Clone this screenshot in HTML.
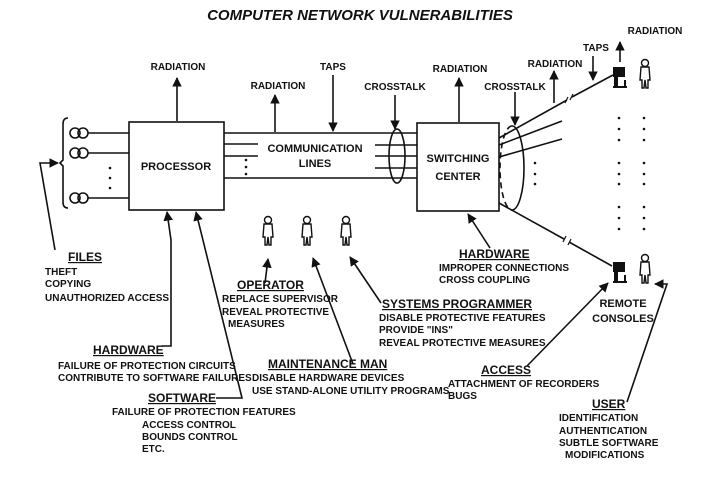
<!DOCTYPE html>
<html><head><style>
body{margin:0;background:#fff}
svg{display:block}
text{font-family:"Liberation Sans",sans-serif;font-weight:bold;font-size:10px;fill:#111}
.u{text-decoration:underline;font-size:12px}
</style></head><body>
<svg width="720" height="479" viewBox="0 0 720 479" xmlns="http://www.w3.org/2000/svg">
<defs><marker id="a" viewBox="0 0 10 10" refX="9" refY="5" markerWidth="6" markerHeight="6" orient="auto"><path d="M0,0L10,5L0,10z" fill="#111"/></marker></defs>
<g stroke="#111" stroke-width="1.6" fill="none">
<text x="360" y="20" text-anchor="middle" style="font-size:15px;font-style:italic" stroke="none">COMPUTER NETWORK VULNERABILITIES</text>
<rect x="129" y="122" width="95" height="88"/>
<circle cx="75" cy="133" r="5"/><circle cx="83" cy="133" r="5"/>
<circle cx="75" cy="153" r="5"/><circle cx="83" cy="153" r="5"/>
<circle cx="75" cy="198" r="5"/><circle cx="83" cy="198" r="5"/>
<line x1="88" y1="133" x2="129" y2="133"/><line x1="88" y1="153" x2="129" y2="153"/><line x1="88" y1="198" x2="129" y2="198"/>
<path d="M68,118 Q63,118 63,124 L63,160 L60,163 L63,166 L63,202 Q63,208 68,208"/>
<path d="M55,250 L40,163 L58,163" marker-end="url(#a)"/>
<line x1="224" y1="133" x2="417" y2="133"/><line x1="224" y1="178" x2="417" y2="178"/>
<line x1="224" y1="144" x2="258" y2="144"/><line x1="224" y1="156" x2="258" y2="156"/>
<line x1="375" y1="145" x2="417" y2="145"/><line x1="375" y1="156" x2="417" y2="156"/><line x1="375" y1="168" x2="417" y2="168"/>
<ellipse cx="397" cy="156" rx="8" ry="27"/>
<rect x="417" y="123" width="82" height="88"/>
<line x1="177" y1="121" x2="177" y2="78" marker-end="url(#a)"/>
<line x1="275" y1="132" x2="275" y2="95" marker-end="url(#a)"/>
<line x1="333" y1="75" x2="333" y2="131" marker-end="url(#a)"/>
<line x1="395" y1="95" x2="395" y2="129" marker-end="url(#a)"/>
<line x1="459" y1="122" x2="459" y2="78" marker-end="url(#a)"/>
<line x1="515" y1="92" x2="515" y2="125" marker-end="url(#a)"/>
<line x1="554" y1="103" x2="554" y2="71" marker-end="url(#a)"/>
<line x1="593" y1="56" x2="593" y2="80" marker-end="url(#a)"/>
<line x1="620" y1="62" x2="620" y2="42" marker-end="url(#a)"/>
<line x1="499" y1="138" x2="567" y2="100"/><line x1="572" y1="97" x2="613" y2="75"/>
<path d="M565,103 l3,-6 M570,100 l3,-6" stroke-width="1.2"/>
<line x1="499" y1="145" x2="562" y2="121"/><line x1="499" y1="157" x2="562" y2="139"/>
<line x1="499" y1="203" x2="564" y2="239"/><line x1="569" y1="242" x2="612" y2="266"/>
<path d="M563,242 l3,-6 M568,245 l3,-6" stroke-width="1.2"/>
<path d="M512,126 A12,42 0 0 1 512,210"/>
<path d="M512,126 A12,42 0 0 0 512,210" stroke-dasharray="6,4"/>
<line x1="490" y1="248" x2="468" y2="214" marker-end="url(#a)"/>
<path d="M162,346 L171,346 L171,240 L167,212" marker-end="url(#a)"/>
<path d="M216,398 L242,398 L196,212" marker-end="url(#a)"/>
<line x1="265" y1="283" x2="268" y2="259" marker-end="url(#a)"/>
<line x1="353" y1="364" x2="313" y2="258" marker-end="url(#a)"/>
<line x1="381" y1="303" x2="350" y2="257" marker-end="url(#a)"/>
<line x1="527" y1="366" x2="608" y2="283" marker-end="url(#a)"/>
<path d="M627,402 L667,284 L655,284" marker-end="url(#a)"/>
</g>
<g fill="#111">
<circle cx="110" cy="168" r="1.3"/><circle cx="110" cy="178" r="1.3"/><circle cx="110" cy="188" r="1.3"/>
<circle cx="246" cy="160" r="1.3"/><circle cx="246" cy="167" r="1.3"/><circle cx="246" cy="174" r="1.3"/>
<circle cx="535" cy="163" r="1.3"/><circle cx="535" cy="174" r="1.3"/><circle cx="535" cy="184" r="1.3"/>
<g id="col"><circle cx="619" cy="118" r="1.3"/><circle cx="619" cy="129" r="1.3"/><circle cx="619" cy="140" r="1.3"/><circle cx="619" cy="163" r="1.3"/><circle cx="619" cy="174" r="1.3"/><circle cx="619" cy="184" r="1.3"/><circle cx="619" cy="207" r="1.3"/><circle cx="619" cy="218" r="1.3"/><circle cx="619" cy="229" r="1.3"/></g>
<use href="#col" x="25"/>
<g id="term"><rect x="613" y="67" width="12" height="10"/><rect x="614" y="76" width="4" height="12"/><rect x="613" y="86" width="14" height="2"/><rect x="624" y="80" width="2" height="8"/></g>
<use href="#term" y="195"/>
</g>
<g stroke="#111" stroke-width="1.4" fill="none">
<g id="per"><circle cx="645" cy="63" r="3.5"/><path d="M641,67 L649,67 L650,80 L648,80 L648,88 L646,88 L645,80 L644,88 L642,88 L642,80 L640,80 Z"/></g>
<use href="#per" y="195"/>
<use href="#per" x="-377" y="157"/>
<use href="#per" x="-338" y="157"/>
<use href="#per" x="-299" y="157"/>
</g>
<text x="178" y="70" text-anchor="middle">RADIATION</text>
<text x="278" y="89" text-anchor="middle">RADIATION</text>
<text x="333" y="70" text-anchor="middle">TAPS</text>
<text x="395" y="90" text-anchor="middle">CROSSTALK</text>
<text x="460" y="72" text-anchor="middle">RADIATION</text>
<text x="515" y="90" text-anchor="middle">CROSSTALK</text>
<text x="555" y="67" text-anchor="middle">RADIATION</text>
<text x="596" y="51" text-anchor="middle">TAPS</text>
<text x="655" y="34" text-anchor="middle">RADIATION</text>
<text x="176" y="170" text-anchor="middle" style="font-size:11px">PROCESSOR</text>
<text x="315" y="152" text-anchor="middle" style="font-size:11px">COMMUNICATION</text>
<text x="315" y="167" text-anchor="middle" style="font-size:11px">LINES</text>
<text x="458" y="162" text-anchor="middle" style="font-size:11px">SWITCHING</text>
<text x="458" y="180" text-anchor="middle" style="font-size:11px">CENTER</text>
<text x="68" y="261" class="u">FILES</text>
<text x="45" y="275">THEFT</text><text x="45" y="287">COPYING</text><text x="45" y="301">UNAUTHORIZED ACCESS</text>
<text x="237" y="289" class="u">OPERATOR</text>
<text x="222" y="302">REPLACE SUPERVISOR</text><text x="222" y="315">REVEAL PROTECTIVE</text><text x="228" y="327">MEASURES</text>
<text x="93" y="354" class="u">HARDWARE</text>
<text x="58" y="369">FAILURE OF PROTECTION CIRCUITS</text><text x="58" y="381">CONTRIBUTE TO SOFTWARE FAILURES</text>
<text x="148" y="402" class="u">SOFTWARE</text>
<text x="112" y="415">FAILURE OF PROTECTION FEATURES</text>
<text x="142" y="428">ACCESS CONTROL</text><text x="142" y="440">BOUNDS CONTROL</text><text x="142" y="452">ETC.</text>
<text x="268" y="368" class="u">MAINTENANCE MAN</text>
<text x="252" y="381">DISABLE HARDWARE DEVICES</text><text x="252" y="394">USE STAND-ALONE UTILITY PROGRAMS</text>
<text x="382" y="308" class="u">SYSTEMS PROGRAMMER</text>
<text x="379" y="321">DISABLE PROTECTIVE FEATURES</text><text x="379" y="333">PROVIDE "INS"</text><text x="379" y="346">REVEAL PROTECTIVE MEASURES</text>
<text x="459" y="258" class="u">HARDWARE</text>
<text x="439" y="271">IMPROPER CONNECTIONS</text><text x="439" y="283">CROSS COUPLING</text>
<text x="623" y="307" text-anchor="middle" style="font-size:11px">REMOTE</text>
<text x="623" y="322" text-anchor="middle" style="font-size:11px">CONSOLES</text>
<text x="481" y="374" class="u">ACCESS</text>
<text x="448" y="387">ATTACHMENT OF RECORDERS</text><text x="448" y="399">BUGS</text>
<text x="592" y="408" class="u">USER</text>
<text x="559" y="421">IDENTIFICATION</text><text x="559" y="434">AUTHENTICATION</text><text x="559" y="446">SUBTLE SOFTWARE</text><text x="565" y="458">MODIFICATIONS</text>
</svg>
</body></html>
